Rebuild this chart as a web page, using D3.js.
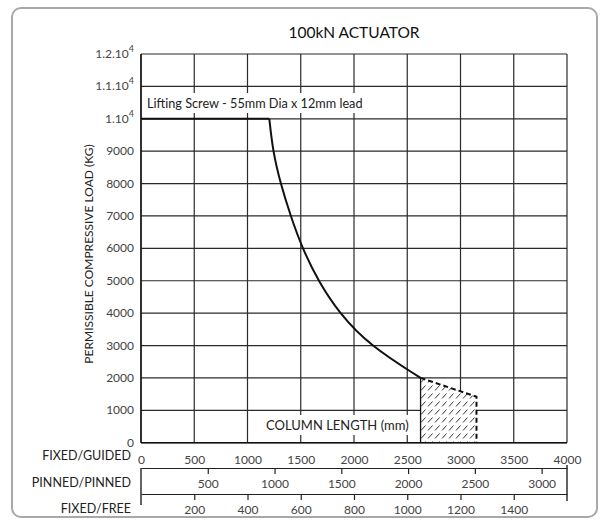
<!DOCTYPE html>
<html><head><meta charset="utf-8">
<script src="https://cdn.jsdelivr.net/npm/d3@7"></script>
<style>
html,body{margin:0;padding:0;background:#fff;}
svg{display:block;font-family:Lato,"Open Sans",sans-serif;}
</style></head>
<body><svg id="c" width="609" height="526"></svg>
<script>
// ---- data ----
const title = "100kN ACTUATOR";
const yTitle = "PERMISSIBLE COMPRESSIVE LOAD (KG)";
const annotation = "Lifting Screw - 55mm Dia x 12mm lead";
const xLabel = "COLUMN LENGTH (mm)";
const yTicks = [0,1000,2000,3000,4000,5000,6000,7000,8000,9000,10000,11000,12000];
const yTickLabels = ["0","1000","2000","3000","4000","5000","6000","7000","8000","9000",["1.10","4"],["1.1.10","4"],["1.2.10","4"]];
const guidedTicks = [0,500,1000,1500,2000,2500,3000,3500,4000];
const pinnedTicks = [500,1000,1500,2000,2500,3000];
const freeTicks = [200,400,600,800,1000,1200,1400];
const rowNames = ["FIXED/GUIDED","PINNED/PINNED","FIXED/FREE"];
// flat (screw-limited) part
const flatLen  = [0,1205];
const flatLoad = [10000,10000];
// buckling curve (column length mm, load kg)
const curveLen  = [1205,1238,1310,1405,1515,1663,1860,2147,2625];
const curveLoad = [10000,9000,8000,7000,6000,5000,4000,3000,2000];
// hatched region
const zoneLen  = [2625,2625,3150,3150];
const zoneLoad = [0,2000,1420,0];

const svg = d3.select("#c");
svg.append("rect").attr("x",12).attr("y",8).attr("width",585).attr("height",509)
  .attr("rx",9).attr("fill","#fff").attr("stroke","#a8a8a8").attr("stroke-width",2);

const L=141,R=567,T=54,B=442.7;
const x = d3.scaleLinear().domain([0,4000]).range([L,R]);
const y = d3.scaleLinear().domain([0,12000]).range([B,T]);
const xPinned = d3.scaleLinear().domain([0,3190]).range([L,R]);
const xFree = d3.scaleLinear().domain([0,1600]).range([L,R]);

const grid = svg.append("g").attr("stroke","#2a2a2a").attr("stroke-width",1.2);
yTicks.forEach(v=>grid.append("line").attr("x1",L).attr("x2",R).attr("y1",y(v)).attr("y2",y(v)));
guidedTicks.forEach(v=>grid.append("line").attr("x1",x(v)).attr("x2",x(v)).attr("y1",T).attr("y2",B));

const defs = svg.append("defs");
const pat = defs.append("pattern").attr("id","hatch").attr("patternUnits","userSpaceOnUse")
  .attr("width",7).attr("height",8);
pat.append("rect").attr("width",7).attr("height",8).attr("fill","#fff");
pat.append("line").attr("x1",1).attr("y1",6.5).attr("x2",5.5).attr("y2",1.5)
  .attr("stroke","#222").attr("stroke-width",0.9);

const zone = zoneLen.map((d,i)=>[x(d),y(zoneLoad[i])]);
svg.append("path").attr("d",d3.line()(zone)+"Z").attr("fill","url(#hatch)").attr("stroke","none");
svg.append("line").attr("x1",zone[0][0]).attr("y1",zone[0][1]).attr("x2",zone[1][0]).attr("y2",zone[1][1])
  .attr("stroke","#111").attr("stroke-width",1.3);
svg.append("path").attr("d",d3.line()(zone.slice(1)))
  .attr("fill","none").attr("stroke","#111").attr("stroke-width",2).attr("stroke-dasharray","5,3");

function boxedText(tx,ty,txt,size){
  const t = svg.append("text").attr("x",tx).attr("y",ty).attr("font-size",size).attr("fill","#222").text(txt);
  const bb = t.node().getBBox();
  svg.insert("rect", function(){return t.node();}).attr("x",bb.x-3).attr("y",bb.y-2)
    .attr("width",bb.width+6).attr("height",bb.height+4).attr("fill","#fff");
  return t;
}
boxedText(147,108,annotation,12.7);
boxedText(266,430,xLabel,13);

const flatPts = flatLen.map((d,i)=>[x(d),y(flatLoad[i])]);
svg.append("path").attr("d",d3.line()(flatPts))
  .attr("fill","none").attr("stroke","#111").attr("stroke-width",2);
const pts = curveLen.map((d,i)=>[x(d),y(curveLoad[i])]);
svg.append("path").attr("d",d3.line().curve(d3.curveBasis)(pts))
  .attr("fill","none").attr("stroke","#111").attr("stroke-width",2);

svg.append("line").attr("x1",L).attr("x2",L).attr("y1",T).attr("y2",B).attr("stroke","#111").attr("stroke-width",1.4);
svg.append("line").attr("x1",L).attr("x2",R).attr("y1",B).attr("y2",B).attr("stroke","#111").attr("stroke-width",1.4);

yTicks.forEach((v,i)=>{
  const lab = yTickLabels[i];
  const t = svg.append("text").attr("x",134).attr("y",y(v)+4).attr("text-anchor","end")
    .attr("font-size",12).attr("fill","#444");
  if(Array.isArray(lab)){
    t.append("tspan").text(lab[0]);
    t.append("tspan").attr("dy",-6).attr("font-size",9).text(lab[1]);
  } else t.text(lab);
});

svg.append("text").attr("x",(L+R)/2).attr("y",38).attr("text-anchor","middle")
  .attr("font-size",15.5).attr("fill","#111").text(title);
svg.append("text").attr("transform",`translate(93,254) rotate(-90)`).attr("text-anchor","middle")
  .attr("font-size",12).attr("fill","#222").text(yTitle);

const gGuided = svg.append("g").attr("transform",`translate(0,${B})`)
  .call(d3.axisBottom(x).tickValues(guidedTicks).tickSize(0).tickPadding(13).tickFormat(d3.format("d")));
gGuided.select(".domain").remove();
const gPinned = svg.append("g").attr("transform","translate(0,468)")
  .call(d3.axisBottom(xPinned).tickValues(pinnedTicks).tickSize(6).tickPadding(5).tickFormat(d3.format("d")).tickSizeOuter(0));
const gFree = svg.append("g").attr("transform","translate(0,494)")
  .call(d3.axisBottom(xFree).tickValues(freeTicks).tickSize(6).tickPadding(5).tickFormat(d3.format("d")).tickSizeOuter(0));
[gGuided,gPinned,gFree].forEach(g=>{
  g.selectAll("text").attr("font-size",12).attr("fill","#444").attr("font-family","Lato,'Open Sans',sans-serif");
  g.selectAll("line").attr("stroke","#222").attr("stroke-width",1.2);
  g.select(".domain").attr("stroke","#222").attr("stroke-width",1.2);
});
svg.append("line").attr("x1",L).attr("x2",L).attr("y1",468).attr("y2",505).attr("stroke","#222").attr("stroke-width",1.4);
svg.append("line").attr("x1",R).attr("x2",R).attr("y1",465).attr("y2",501).attr("stroke","#222").attr("stroke-width",1.4);

const rowY = [460,487,513];
rowNames.forEach((n,i)=>svg.append("text").attr("x",131).attr("y",rowY[i]).attr("text-anchor","end")
  .attr("font-size",12.5).attr("fill","#222").text(n));
</script></body></html>
